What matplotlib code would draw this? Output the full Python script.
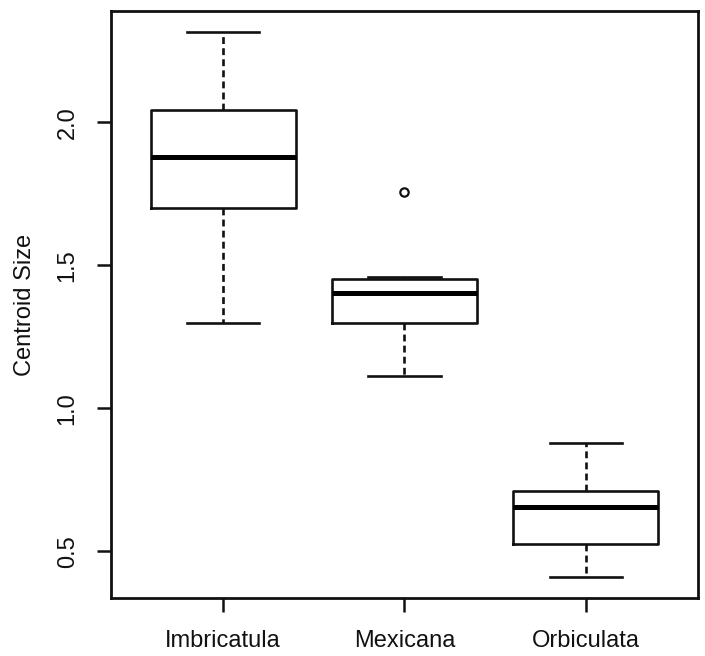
import matplotlib
matplotlib.use("Agg")
import matplotlib.pyplot as plt

plt.rcParams['font.family'] = ['Liberation Sans', 'DejaVu Sans']

# box statistics
species = ['Imbricatula', 'Mexicana', 'Orbiculata']
whis_lo = [1.300, 1.113, 0.411]
q1 = [1.700, 1.297, 0.525]
med = [1.879, 1.402, 0.654]
q3 = [2.042, 1.453, 0.711]
whis_hi = [2.317, 1.458, 0.880]
outliers = [[], [1.757], []]

yticks = [0.5, 1.0, 1.5, 2.0]

stats = []
for i in range(len(species)):
    stats.append(dict(label=species[i], whislo=whis_lo[i], q1=q1[i], med=med[i],
                      q3=q3[i], whishi=whis_hi[i], fliers=outliers[i]))

fig = plt.figure(figsize=(7.05, 6.56), dpi=100)
ax = fig.add_axes([0.157, 0.088, 0.8335, 0.8957])

ax.bxp(stats, positions=[1, 2, 3], widths=0.8, capwidths=0.4,
       boxprops=dict(color='#111111', linewidth=1.9),
       medianprops=dict(color='black', linewidth=3.6, solid_capstyle='butt'),
       whiskerprops=dict(color='#111111', linewidth=1.9, linestyle=(0, (2.6, 1.6))),
       capprops=dict(color='#111111', linewidth=1.9),
       flierprops=dict(marker='o', markersize=6, markerfacecolor='none',
                       markeredgecolor='#111111', markeredgewidth=1.6))

ax.set_xlim(0.38, 3.62)
ax.set_ylim(0.336, 2.390)
ax.set_yticks(yticks)
ax.set_yticklabels(['%.1f' % t for t in yticks], rotation=90, va='center')

for s in ax.spines.values():
    s.set_linewidth(2.0)
    s.set_color('#111111')

ax.tick_params(axis='both', direction='out', length=10, width=1.8,
               colors='#111111', labelsize=17, pad=13)
ax.set_ylabel('Centroid Size', fontsize=17, color='#111111')
ax.yaxis.set_label_coords(-0.127, 0.5)

fig.savefig('out.png', dpi=100)
